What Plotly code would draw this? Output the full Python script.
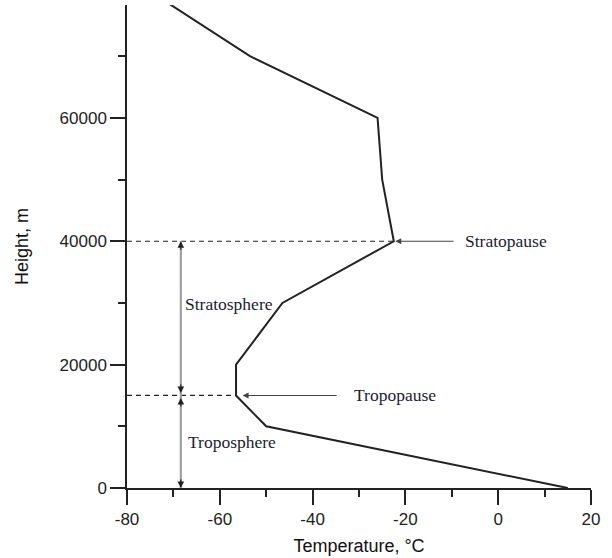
import plotly.graph_objects as go

# Temperature profile of the atmosphere
temperature = [15, -50, -56.5, -56.5, -46.5, -22.5, -25, -26, -53.5, -74]
height = [0, 10000, 15000, 20000, 30000, 40000, 50000, 60000, 70000, 80000]

x_ticks = [-80, -60, -40, -20, 0, 20]
y_ticks = [0, 20000, 40000, 60000]

tropopause_h = 15000
stratopause_h = 40000
tropopause_t = -56.5
stratopause_t = -22.5
bracket_x = -68.4

fig = go.Figure()
fig.add_trace(go.Scatter(x=temperature, y=height, mode="lines",
                         line=dict(color="#222222", width=2), showlegend=False,
                         hoverinfo="skip"))

shapes = []
# dashed horizontal lines
for h, t in [(stratopause_h, stratopause_t), (tropopause_h, tropopause_t)]:
    shapes.append(dict(type="line", xref="x", yref="y", x0=-80, x1=t, y0=h, y1=h,
                       line=dict(color="#222222", width=1.2, dash="5px,4px")))
# gray vertical brackets
shapes.append(dict(type="line", xref="x", yref="y", x0=bracket_x, x1=bracket_x,
                   y0=0, y1=stratopause_h, line=dict(color="#a0a0a0", width=2.2)))

annotations = []
# arrowheads on the brackets (black)
for y, ay in [(stratopause_h, 10), (tropopause_h + 400, -10), (tropopause_h - 400, 10), (0, -10)]:
    annotations.append(dict(x=bracket_x, y=y, xref="x", yref="y", ax=0, ay=ay,
                            text="", showarrow=True, arrowhead=2, arrowsize=1.1,
                            arrowwidth=1.2, arrowcolor="#222222"))
# horizontal pointer arrows
annotations.append(dict(x=stratopause_t + 0.3, y=stratopause_h, xref="x", yref="y",
                        ax=-9.3, ay=stratopause_h, axref="x", ayref="y", text="",
                        showarrow=True, arrowhead=2, arrowsize=1.1, arrowwidth=1.1,
                        arrowcolor="#444444"))
annotations.append(dict(x=tropopause_t + 1.4, y=tropopause_h, xref="x", yref="y",
                        ax=-34.5, ay=tropopause_h, axref="x", ayref="y", text="",
                        showarrow=True, arrowhead=2, arrowsize=1.1, arrowwidth=1.1,
                        arrowcolor="#444444"))

serif = dict(family="Liberation Serif, Times New Roman, serif", size=17.5, color="#1c1c30")
labels = [("Stratopause", -7.6, stratopause_h), ("Tropopause", -31.5, tropopause_h),
          ("Stratosphere", -67.9, 29800), ("Troposphere", -67.3, 7400)]
for txt, x, y in labels:
    annotations.append(dict(x=x, y=y, xref="x", yref="y", text=txt, showarrow=False,
                            xanchor="left", yanchor="middle", font=serif))

axis_common = dict(showline=True, linecolor="#222222", linewidth=1.5, ticks="outside",
                   ticklen=15, tickwidth=1.5, tickcolor="#222222", showgrid=False,
                   zeroline=False, automargin=False,
                   tickfont=dict(family="Liberation Sans, Arial", size=17, color="#222222"),
                   title_font=dict(family="Liberation Sans, Arial", size=18, color="#111111"))

fig.update_layout(
    width=612, height=558,
    margin=dict(l=127, r=21, t=5, b=70),
    plot_bgcolor="white", paper_bgcolor="white",
    shapes=shapes, annotations=annotations,
    xaxis=dict(range=[-80, 20], tickvals=x_ticks, ticktext=[str(v) for v in x_ticks],
               title=dict(text="Temperature, °C", standoff=11),
               minor=dict(dtick=10, ticks="outside", ticklen=7, tickwidth=1.5,
                          tickcolor="#222222", tick0=-70),
               **axis_common),
    yaxis=dict(range=[0, 78300], tickvals=y_ticks, ticktext=[str(v) for v in y_ticks],
               title=dict(text="Height, m", standoff=26),
               minor=dict(dtick=10000, ticks="outside", ticklen=7, tickwidth=1.5,
                          tickcolor="#222222", tick0=10000),
               **axis_common),
)

fig.write_html("out.html", config={"displayModeBar": False},
               post_script="document.body.style.margin='0px';")
